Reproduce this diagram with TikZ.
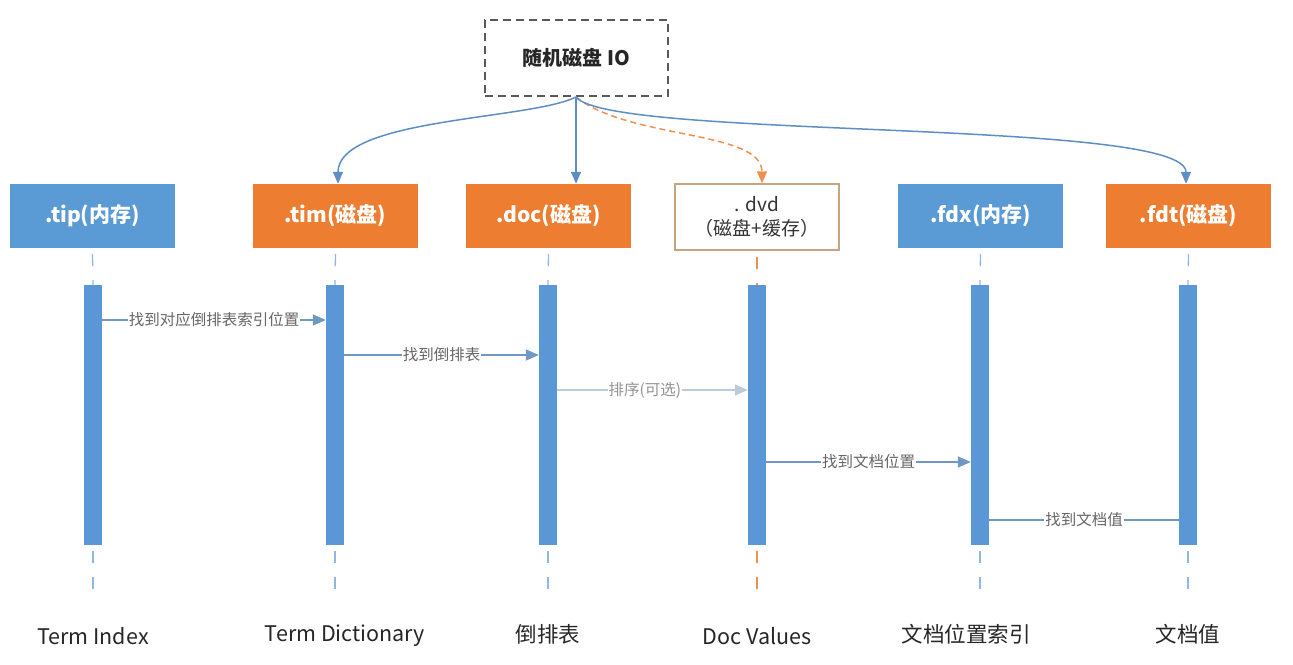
\documentclass[tikz,border=0pt]{standalone}
\usepackage{fontspec}
\setmainfont{Noto Sans CJK SC}
\usetikzlibrary{arrows.meta}
\definecolor{cblue}{HTML}{5B9BD5}
\definecolor{corange}{HTML}{ED7D31}
\definecolor{cbar}{HTML}{5B96D6}
\definecolor{clife}{HTML}{8FB8E0}
\definecolor{carrow}{HTML}{5E8EC6}
\definecolor{cmsg}{HTML}{6F98C6}
\definecolor{cfaint}{HTML}{BCCBDA}
\definecolor{ctext}{HTML}{666666}
\definecolor{cdvd}{HTML}{C9A27E}
\tikzset{
  fbox/.style={minimum width=165pt,minimum height=64pt,inner sep=0pt,text=white,font=\fontsize{21}{24}\selectfont\bfseries},
  bluebox/.style={fbox,fill=cblue},
  orangebox/.style={fbox,fill=corange},
  bar/.style={fill=cbar,minimum width=18pt,minimum height=260pt,inner sep=0pt},
  life/.style={draw=clife,line width=1.3pt,dash pattern=on 12pt off 14pt},
  msg/.style={draw=cmsg,line width=1.5pt,-{Triangle[length=13pt,width=11pt]}},
  mlabel/.style={fill=white,inner sep=1pt,text=ctext,font=\fontsize{15.5}{17}\selectfont},
  conn/.style={draw=carrow,line width=1.5pt,-{Triangle[length=12pt,width=10pt]}},
  bottom/.style={text=black!85,anchor=center,font=\fontsize{21.5}{24}\selectfont},
}
\begin{document}
\begin{tikzpicture}[x=1pt,y=-1pt]
\useasboundingbox (0,0) rectangle (1293,664);
% top box
\node[draw=black!65,line width=1.6pt,dash pattern=on 8pt off 5pt,minimum width=183pt,minimum height=76pt,font=\fontsize{20}{22}\selectfont\bfseries,text=black!85] (io) at (576.5,58) {随机磁盘 IO};
% header boxes
\node[bluebox] (tip) at (92.5,216) {.tip(内存)};
\node[orangebox] (tim) at (335.5,216) {.tim(磁盘)};
\node[orangebox] (doc) at (548.5,216) {.doc(磁盘)};
\node[draw=cdvd,line width=1.3pt,fill=white,minimum width=164pt,minimum height=66pt,inner sep=0pt,align=center,text=black!80,font=\fontsize{19}{24}\selectfont] (dvd) at (757,217) {. dvd\\（磁盘+缓存）};
\node[bluebox] (fdx) at (980.5,216) {.fdx(内存)};
\node[orangebox] (fdt) at (1188.5,216) {.fdt(磁盘)};
% bars
\node[bar] (b1) at (93,415) {};
\node[bar] (b2) at (335,415) {};
\node[bar] (b3) at (548,415) {};
\node[bar] (b4) at (757,415) {};
\node[bar] (b5) at (980,415) {};
\node[bar] (b6) at (1188,415) {};
% bottom labels
\node[bottom] (l1) at (93,636) {Term Index};
\node[bottom] (l2) at (345,636) {Term Dictionary};
\node[bottom] (l3) at (548,634) {倒排表};
\node[bottom] (l4) at (757,636) {Doc Values};
\node[bottom] (l5) at (966,634) {文档位置索引};
\node[bottom] (l6) at (1188,634) {文档值};
% lifelines
\foreach \h/\b in {tip/b1,tim/b2,doc/b3,fdx/b5,fdt/b6}{
  \draw[life] (\h.south) ++(0,6) -- (\b.north);
  \draw[life] (\b.south) ++(0,6) -- ++(0,52);
}
\draw[life,draw=corange!85] (dvd.south) ++(0,6) -- (b4.north);
\draw[life,draw=corange!85] (b4.south) ++(0,6) -- ++(0,52);
% top connectors
\coordinate (iob) at (576,97);
\draw[conn] (iob) .. controls (530,120) and (338,118) .. (tim.north -| 338,0);
\draw[conn] (iob) -- (doc.north -| 576,0);
\draw[conn,draw=corange!85,dash pattern=on 6pt off 4pt] (iob) .. controls (630,140) and (762,130) .. (dvd.north -| 762,0);
\draw[conn] (iob) .. controls (610,140) and (1186,118) .. (fdt.north -| 1186,0);
% messages
\coordinate (m1) at (0,320);
\coordinate (m2) at (0,355);
\coordinate (m3) at (0,390);
\coordinate (m4) at (0,462);
\coordinate (m5) at (0,520);
\draw[msg] (b1.east |- m1) -- node[mlabel,pos=0.5] {找到对应倒排表索引位置} (b2.west |- m1);
\draw[msg] (b2.east |- m2) -- node[mlabel,pos=0.5] {找到倒排表} (b3.west |- m2);
\draw[msg,draw=cfaint] (b3.east |- m3) -- node[mlabel,pos=0.46,text=ctext!70] {排序(可选)} (b4.west |- m3);
\draw[msg] (b4.east |- m4) -- node[mlabel,pos=0.5] {找到文档位置} (b5.west |- m4);
\draw[draw=cmsg,line width=1.5pt] (b6.west |- m5) -- node[mlabel,pos=0.5] {找到文档值} (b5.east |- m5);
\end{tikzpicture}
\end{document}
